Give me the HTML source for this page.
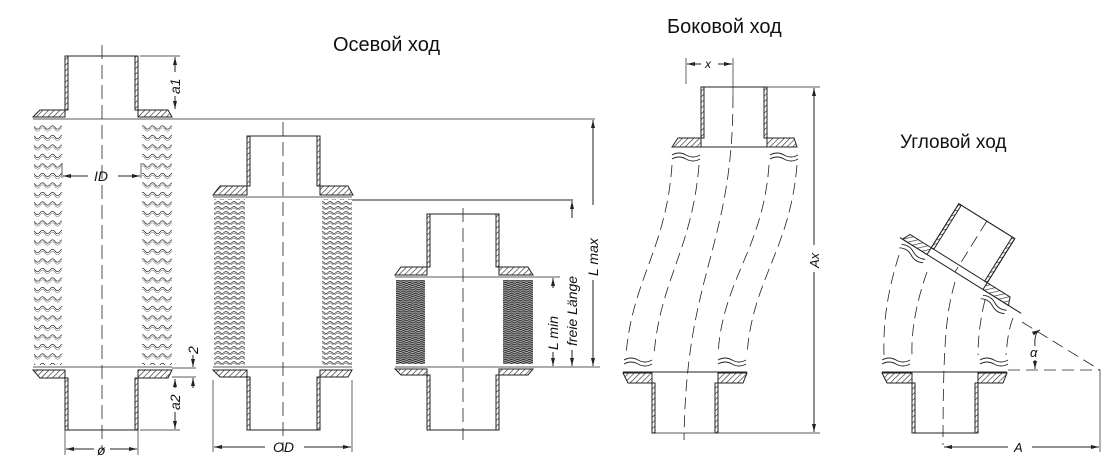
<!DOCTYPE html>
<html><head><meta charset="utf-8"><style>
html,body{margin:0;padding:0;background:#fff}
svg{display:block}
text{font-family:"Liberation Sans","DejaVu Sans",sans-serif;fill:#111}
</style></head><body>
<svg width="1110" height="474" viewBox="0 0 1110 474" xmlns="http://www.w3.org/2000/svg">
<defs>
<pattern id="h" width="4" height="4" patternUnits="userSpaceOnUse" patternTransform="rotate(45)">
<line x1="0" y1="0" x2="0" y2="4" stroke="#222" stroke-width="1.2"/></pattern>
<pattern id="w1" width="10" height="9.5" patternUnits="userSpaceOnUse">
<path d="M0,4 Q2.5,0.5 5,4 T10,4" fill="none" stroke="#333" stroke-width="0.8"/>
<path d="M0,6 Q2.5,2.5 5,6 T10,6" fill="none" stroke="#777" stroke-width="0.6"/></pattern>
<pattern id="w2" width="8" height="5" patternUnits="userSpaceOnUse">
<path d="M0,2.5 Q2,0.5 4,2.5 T8,2.5" fill="none" stroke="#333" stroke-width="0.8"/>
<path d="M0,4 Q2,2 4,4 T8,4" fill="none" stroke="#777" stroke-width="0.6"/></pattern>
<pattern id="w3" width="6" height="2.2" patternUnits="userSpaceOnUse">
<rect width="6" height="2.2" fill="#aaa"/>
<path d="M0,1.2 Q1.5,0 3,1.2 T6,1.2" fill="none" stroke="#222" stroke-width="0.9"/></pattern>
<marker id="a" markerWidth="8" markerHeight="6" refX="8" refY="3" orient="auto-start-reverse" markerUnits="userSpaceOnUse">
<path d="M0,1 L8,3 L0,5z" fill="#222"/></marker>
</defs>
<g stroke="#222" stroke-width="1" fill="none">

<!-- FIG 1 -->
<line x1="102" y1="45" x2="102" y2="450" stroke-dasharray="14,6" stroke-width="0.8"/>
<rect x="65" y="56" width="3" height="54" fill="url(#h)"/><rect x="135" y="56" width="3" height="54" fill="url(#h)"/>
<line x1="65" y1="56" x2="65" y2="117"/><line x1="138" y1="56" x2="138" y2="117"/>
<path d="M33,117 L40,110 L65,110 L65,117Z M138,110 L168,110 L172,117 L138,117Z" fill="url(#h)"/>
<line x1="33" y1="119" x2="595" y2="119" stroke-width="0.8"/>
<rect x="34" y="122" width="28" height="243" fill="url(#w1)" stroke="none"/>
<rect x="142" y="122" width="30" height="243" fill="url(#w1)" stroke="none"/>
<path d="M33,367 L172,367" stroke-width="0.8"/>
<path d="M33,370 L65,370 L65,378 L40,378Z M138,370 L172,370 L168,378 L138,378Z" fill="url(#h)"/>
<line x1="65" y1="370" x2="65" y2="430"/><line x1="138" y1="370" x2="138" y2="430"/>
<rect x="65" y="378" width="3" height="52" fill="url(#h)"/><rect x="135" y="378" width="3" height="52" fill="url(#h)"/>
<line x1="65" y1="430" x2="138" y2="430"/><line x1="65" y1="56" x2="138" y2="56"/>
<line x1="65" y1="430" x2="65" y2="455" stroke-width="0.7"/><line x1="138" y1="430" x2="138" y2="455" stroke-width="0.7"/>
<line x1="66" y1="449" x2="94" y2="449" marker-start="url(#a)"/><line x1="110" y1="449" x2="137" y2="449" marker-end="url(#a)"/>
<line x1="140" y1="56" x2="180" y2="56" stroke-width="0.7"/>
<line x1="175" y1="57" x2="175" y2="72" marker-start="url(#a)"/><line x1="175" y1="96" x2="175" y2="109" marker-end="url(#a)"/>
<line x1="175" y1="379" x2="175" y2="388" marker-start="url(#a)"/><line x1="175" y1="412" x2="175" y2="429" marker-end="url(#a)"/>
<line x1="140" y1="430" x2="180" y2="430" stroke-width="0.7"/>
<line x1="172" y1="368" x2="196" y2="368" stroke-width="0.7"/><line x1="172" y1="377" x2="196" y2="377" stroke-width="0.7"/>
<line x1="193" y1="355" x2="193" y2="367" marker-end="url(#a)"/><line x1="193" y1="388" x2="193" y2="378" marker-end="url(#a)"/>
<line x1="62" y1="163" x2="62" y2="178" stroke-width="0.7"/><line x1="141" y1="163" x2="141" y2="178" stroke-width="0.7"/>
<line x1="63" y1="176" x2="88" y2="176" marker-start="url(#a)"/><line x1="118" y1="176" x2="140" y2="176" marker-end="url(#a)"/>

<!-- FIG 2 -->
<line x1="283" y1="122" x2="283" y2="452" stroke-dasharray="14,6" stroke-width="0.8"/>
<line x1="247" y1="136" x2="320" y2="136"/>
<line x1="247" y1="136" x2="247" y2="195"/><line x1="320" y1="136" x2="320" y2="195"/>
<rect x="247" y="136" width="3" height="50" fill="url(#h)"/><rect x="317" y="136" width="3" height="50" fill="url(#h)"/>
<path d="M213,195 L220,186 L247,186 L247,195Z M320,186 L348,186 L353,195 L320,195Z" fill="url(#h)"/>
<line x1="213" y1="197" x2="352" y2="197" stroke-width="0.8"/>
<line x1="352" y1="200" x2="573" y2="200"/>
<rect x="214" y="199" width="31" height="166" fill="url(#w2)" stroke="none"/>
<rect x="322" y="199" width="30" height="166" fill="url(#w2)" stroke="none"/>
<line x1="213" y1="367" x2="352" y2="367" stroke-width="0.8"/>
<path d="M213,370 L247,370 L247,377 L220,377Z M320,370 L352,370 L348,377 L320,377Z" fill="url(#h)"/>
<line x1="247" y1="370" x2="247" y2="430"/><line x1="320" y1="370" x2="320" y2="430"/>
<rect x="247" y="377" width="3" height="53" fill="url(#h)"/><rect x="317" y="377" width="3" height="53" fill="url(#h)"/>
<line x1="247" y1="430" x2="320" y2="430"/>
<line x1="213" y1="380" x2="213" y2="452" stroke-width="0.7"/><line x1="352" y1="380" x2="352" y2="452" stroke-width="0.7"/>
<line x1="214" y1="447" x2="265" y2="447" marker-start="url(#a)"/><line x1="304" y1="447" x2="351" y2="447" marker-end="url(#a)"/>

<!-- FIG 3 -->
<line x1="463" y1="208" x2="463" y2="440" stroke-dasharray="14,6" stroke-width="0.8"/>
<line x1="427" y1="214" x2="499" y2="214"/>
<line x1="427" y1="214" x2="427" y2="275"/><line x1="499" y1="214" x2="499" y2="275"/>
<rect x="427" y="214" width="3" height="53" fill="url(#h)"/><rect x="496" y="214" width="3" height="53" fill="url(#h)"/>
<path d="M395,275 L401,267 L427,267 L427,275Z M499,267 L528,267 L533,275 L499,275Z" fill="url(#h)"/>
<line x1="395" y1="277" x2="560" y2="277" stroke-width="0.8"/>
<rect x="396" y="280" width="29" height="84" fill="url(#w3)" stroke="none"/>
<rect x="503" y="280" width="30" height="84" fill="url(#w3)" stroke="none"/>
<line x1="395" y1="367" x2="600" y2="367" stroke-width="0.8"/>
<path d="M395,369 L427,369 L427,375 L401,375Z M499,369 L533,369 L528,375 L499,375Z" fill="url(#h)"/>
<line x1="427" y1="369" x2="427" y2="430"/><line x1="499" y1="369" x2="499" y2="430"/>
<rect x="427" y="375" width="3" height="55" fill="url(#h)"/><rect x="496" y="375" width="3" height="55" fill="url(#h)"/>
<line x1="427" y1="430" x2="499" y2="430"/>
<line x1="553" y1="278" x2="553" y2="288" marker-start="url(#a)"/><line x1="553" y1="352" x2="553" y2="366" marker-end="url(#a)"/>
<line x1="572" y1="201" x2="572" y2="218" marker-start="url(#a)"/><line x1="572" y1="350" x2="572" y2="366" marker-end="url(#a)"/>
<line x1="593" y1="120" x2="593" y2="205" marker-start="url(#a)"/><line x1="593" y1="280" x2="593" y2="366" marker-end="url(#a)"/>

<!-- FIG 4 -->
<line x1="701" y1="87" x2="767" y2="87"/>
<line x1="701" y1="87" x2="701" y2="147"/><line x1="767" y1="87" x2="767" y2="147"/>
<rect x="701" y="87" width="3" height="51" fill="url(#h)"/><rect x="764" y="87" width="3" height="51" fill="url(#h)"/>
<path d="M672,147 L678,138 L701,138 L701,147Z M767,138 L794,138 L797,147 L767,147Z" fill="url(#h)"/>
<line x1="701" y1="147" x2="767" y2="147"/>
<line x1="686" y1="58" x2="686" y2="84" stroke-width="0.7"/><line x1="733" y1="58" x2="733" y2="96" stroke-width="0.7"/>
<line x1="687" y1="64" x2="701" y2="64" marker-start="url(#a)"/><line x1="718" y1="64" x2="732" y2="64" marker-end="url(#a)"/>
<path d="M672,155 q7,-4 14,0 t14,0 M672,159 q7,-4 14,0 t14,0 M770,155 q7,-4 14,0 t14,0 M770,159 q7,-4 14,0 t14,0" stroke-width="0.9"/>
<g stroke-dasharray="12,6" stroke-width="0.8">
<path d="M672,165 C666,250 632,280 626,355"/>
<path d="M699,165 C692,250 660,280 654,355"/>
<path d="M733,96 C733,250 686,270 684,440"/>
<path d="M769,165 C763,250 722,280 718,355"/>
<path d="M797,165 C790,250 752,280 747,355"/>
</g>
<path d="M624,360 q7,-4 14,0 t14,0 M624,364 q7,-4 14,0 t14,0 M718,360 q7,-4 14,0 t14,0 M718,364 q7,-4 14,0 t14,0" stroke-width="0.9"/>
<line x1="623" y1="372" x2="747" y2="372"/>
<path d="M623,373 L652,373 L652,383 L628,383Z M718,373 L747,373 L743,383 L718,383Z" fill="url(#h)"/>
<line x1="652" y1="373" x2="652" y2="433"/><line x1="718" y1="373" x2="718" y2="433"/>
<rect x="652" y="383" width="3" height="50" fill="url(#h)"/><rect x="715" y="383" width="3" height="50" fill="url(#h)"/>
<line x1="652" y1="433" x2="820" y2="433" stroke-width="0.8"/>
<line x1="767" y1="87" x2="820" y2="87" stroke-width="0.7"/>
<line x1="814" y1="88" x2="814" y2="245" marker-start="url(#a)"/><line x1="814" y1="272" x2="814" y2="432" marker-end="url(#a)"/>

<!-- FIG 5 -->
<g transform="translate(955,272) rotate(32)">
<rect x="-33" y="-60" width="66" height="52" fill="#fff"/>
<line x1="-33" y1="-60" x2="33" y2="-60"/>
<rect x="-33" y="-60" width="3" height="52" fill="url(#h)"/><rect x="30" y="-60" width="3" height="52" fill="url(#h)"/>
<line x1="0" y1="-60" x2="0" y2="0" stroke-dasharray="12,6" stroke-width="0.8"/>
<path d="M-62,0 L-58,-8 L-33,-8 L-33,0Z M33,-8 L60,-8 L63,0 L33,0Z" fill="url(#h)"/>
<line x1="-65" y1="0" x2="78" y2="0"/>
<path d="M-60,5 q7,-4 14,0 t14,0 M-60,9 q7,-4 14,0 t14,0 M36,5 q7,-4 14,0 t14,0 M36,9 q7,-4 14,0 t14,0" stroke-width="0.9"/>
</g>
<g stroke-dasharray="12,6" stroke-width="0.8">
<path d="M899,255 C888,290 883,320 884,355"/>
<path d="M927,272 C917,300 911,330 912,355"/>
<path d="M955,282 C947,310 943,335 943,445"/>
<path d="M985,300 C980,320 978,340 978,355"/>
<path d="M1013,318 C1008,330 1007,345 1006,355"/>
<line x1="1008" y1="370" x2="1100" y2="370"/>
<line x1="1022" y1="322" x2="1100" y2="370"/>
</g>
<path d="M882,360 q7,-4 14,0 t14,0 M882,364 q7,-4 14,0 t14,0 M980,360 q7,-4 14,0 t14,0 M980,364 q7,-4 14,0 t14,0" stroke-width="0.9"/>
<line x1="882" y1="372" x2="1007" y2="372"/>
<path d="M882,373 L912,373 L912,383 L887,383Z M978,373 L1007,373 L1003,383 L978,383Z" fill="url(#h)"/>
<line x1="912" y1="373" x2="912" y2="433"/><line x1="978" y1="373" x2="978" y2="433"/>
<rect x="912" y="383" width="3" height="50" fill="url(#h)"/><rect x="975" y="383" width="3" height="50" fill="url(#h)"/>
<line x1="912" y1="433" x2="978" y2="433"/>
<line x1="1100" y1="370" x2="1100" y2="452" stroke-width="0.7"/>
<line x1="944" y1="447" x2="1008" y2="447" marker-start="url(#a)"/><line x1="1032" y1="447" x2="1099" y2="447" marker-end="url(#a)"/>
<path d="M1035,369 L1035,360 M1035,346 Q1034,336 1038,331" marker-start="url(#a)" />
<path d="M1038,331 L1040,330" marker-end="url(#a)"/>
</g>

<text x="333" y="51" font-size="20">Осевой ход</text>
<text x="667" y="33" font-size="20">Боковой ход</text>
<text x="900" y="148" font-size="19">Угловой ход</text>
<g font-style="italic" font-size="14">
<text x="94" y="181">ID</text>
<text x="97" y="455">ø</text>
<text x="273" y="452">OD</text>
<text x="705" y="68" font-size="12">x</text>
<text x="1014" y="452" font-size="13">A</text>
<text x="1030" y="357" font-size="13">α</text>
<text transform="translate(180,94) rotate(-90)">a1</text>
<text transform="translate(180,410) rotate(-90)">a2</text>
<text transform="translate(198,354) rotate(-90)">2</text>
<text transform="translate(558,350) rotate(-90)">L  min</text>
<text transform="translate(577,346) rotate(-90)">freie  Länge</text>
<text transform="translate(598,276) rotate(-90)">L  max</text>
<text transform="translate(819,268) rotate(-90)" font-size="13">Ax</text>
</g>
</svg>
</body></html>
